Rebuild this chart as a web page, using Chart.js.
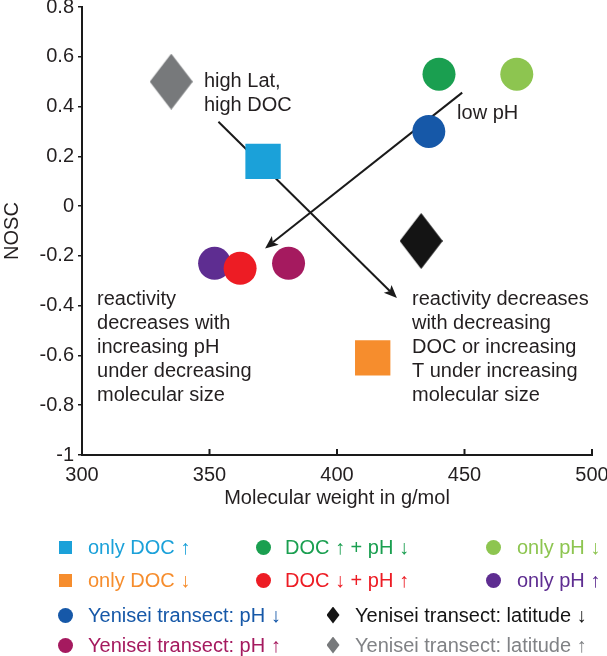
<!DOCTYPE html>
<html><head><meta charset="utf-8">
<script src="https://cdn.jsdelivr.net/npm/chart.js@4/dist/chart.umd.min.js"></script>
<style>
html,body{margin:0;padding:0;background:#fff;}
#wrap{position:relative;width:607px;height:656px;overflow:hidden;}
#c{position:absolute;left:0;top:0;}
.lg{position:absolute;font:20px "Liberation Sans",Arial,sans-serif;white-space:nowrap;line-height:24px;height:24px;}
.mk{position:absolute;}
</style></head><body>
<div id="wrap"><canvas id="c" width="607" height="656"></canvas><div id="legend"></div></div>
<script>
// ---- data ----
const seriesNames = ['only DOC \u2191','only DOC \u2193','DOC \u2191 + pH \u2193','DOC \u2193 + pH \u2191','only pH \u2193','only pH \u2191',
  'Yenisei transect: pH \u2193','Yenisei transect: pH \u2191','Yenisei transect: latitude \u2193','Yenisei transect: latitude \u2191'];
const seriesX = [371, 414, 440, 362, 470.5, 352, 436, 381, 433, 335];
const seriesY = [0.18, -0.61, 0.53, -0.25, 0.53, -0.23, 0.30, -0.23, -0.14, 0.50];
const seriesShape = ['square','square','circle','circle','circle','circle','circle','circle','diamond','diamond'];
const seriesColor = ['#1BA1D9','#F68D2D','#1A9F50','#ED1C24','#8DC550','#5E2D91','#1658A8','#A51A5F','#141414','#77797B'];
const xTickLabels = ['300','350','400','450','500'];
const xTickValues = [300,350,400,450,500];
const yTickLabels = ['-1','-0.8','-0.6','-0.4','-0.2','0','0.2','0.4','0.6','0.8'];
const yTickValues = [-1,-0.8,-0.6,-0.4,-0.2,0,0.2,0.4,0.6,0.8];
const arrowFrom = [[353.5,0.339],[449.1,0.456]];
const arrowTo = [[423.5,-0.369],[371.8,-0.170]];
const noteAnchors = [[347.8,0.499],[447.1,0.374],[305.9,-0.377],[429.4,-0.377]];
const noteLines = [
  ['high Lat,','high DOC'],
  ['low pH'],
  ['reactivity','decreases with','increasing pH','under decreasing','molecular size'],
  ['reactivity decreases','with decreasing','DOC or increasing','T under increasing','molecular size']
];
// legend layout (positions only)
const legendSlots = [[65,88,547],[65,88,580],[263,285,547],[263,285,580],[493,517,547],[493,517,580],[65,88,615],[65,88,645],[333,355,615],[333,355,645]];

const FONT = '"Liberation Sans", Arial, sans-serif';
const TXT = '#231F20';

function diamondImg(color,w,h){
  const c=document.createElement('canvas');c.width=w;c.height=h;
  const g=c.getContext('2d');g.fillStyle=color;g.beginPath();
  g.moveTo(w/2,0);g.lineTo(w,h/2);g.lineTo(w/2,h);g.lineTo(0,h/2);g.closePath();g.fill();return c;
}

// draw order: lower 'order' is drawn on top
const drawOrder = [5,5,5,1,5,6,5,5,5,5];
const datasets = seriesNames.map((n,i)=>{
  const shp = seriesShape[i];
  const ds = {label:n, data:[{x:seriesX[i],y:seriesY[i]}], backgroundColor:seriesColor[i], borderWidth:0, order:drawOrder[i]};
  if(shp==='circle'){ds.pointStyle='circle';ds.pointRadius=16.5;}
  else if(shp==='square'){ds.pointStyle='rect';ds.pointRadius=25;}
  else {ds.pointStyle=diamondImg(seriesColor[i],43,56);ds.pointRadius=20;}
  ds.pointHoverRadius=ds.pointRadius;
  return ds;
});

const arrowPlugin = {
  id:'arrows',
  beforeDatasetsDraw(chart){
    const {ctx, scales:{x,y}} = chart;
    ctx.save();
    ctx.strokeStyle='#1a1a1a';ctx.fillStyle='#1a1a1a';ctx.lineWidth=2;
    arrowFrom.forEach((f,i)=>{
      const x1=x.getPixelForValue(f[0]),y1=y.getPixelForValue(f[1]);
      const x2=x.getPixelForValue(arrowTo[i][0]),y2=y.getPixelForValue(arrowTo[i][1]);
      const a=Math.atan2(y2-y1,x2-x1);
      const L=13,W=5.5;
      const bx=x2-L*Math.cos(a),by=y2-L*Math.sin(a);
      ctx.beginPath();ctx.moveTo(x1,y1);ctx.lineTo(bx+3*Math.cos(a),by+3*Math.sin(a));ctx.stroke();
      ctx.beginPath();ctx.moveTo(x2,y2);
      ctx.lineTo(bx+W*Math.sin(a),by-W*Math.cos(a));
      ctx.lineTo(x2-(L-3)*Math.cos(a),y2-(L-3)*Math.sin(a));
      ctx.lineTo(bx-W*Math.sin(a),by+W*Math.cos(a));
      ctx.closePath();ctx.fill();
    });
    ctx.restore();
  },
  afterDraw(chart){
    const {ctx, scales:{x,y}} = chart;
    ctx.save();
    // inward x ticks
    ctx.strokeStyle='#1a1a1a';ctx.lineWidth=2;
    const b=chart.chartArea.bottom;
    xTickValues.forEach(v=>{const px=x.getPixelForValue(v);ctx.beginPath();ctx.moveTo(px,b);ctx.lineTo(px,b-6);ctx.stroke();});
    // notes
    ctx.fillStyle=TXT;ctx.font='20px '+FONT;ctx.textBaseline='middle';ctx.textAlign='left';
    noteAnchors.forEach((a,i)=>{
      const px=x.getPixelForValue(a[0]),py=y.getPixelForValue(a[1]);
      noteLines[i].forEach((t,j)=>ctx.fillText(t,px,py+j*24));
    });
    ctx.restore();
  }
};

new Chart(document.getElementById('c'),{
  type:'scatter',
  data:{datasets},
  options:{
    responsive:false,animation:false,devicePixelRatio:1,
    layout:{autoPadding:false,padding:{top:7,right:15,bottom:142,left:0}},
    plugins:{legend:{display:false},tooltip:{enabled:false}},
    events:[],
    scales:{
      x:{type:'linear',min:300,max:500,
        afterBuildTicks:s=>{s.ticks=xTickValues.map(v=>({value:v}));},
        afterFit:s=>{s.height=59;s.paddingLeft=0;s.paddingRight=0;},
        grid:{display:true,drawOnChartArea:false,drawTicks:false},
        border:{display:true,color:'#1a1a1a',width:2},
        ticks:{color:TXT,font:{family:FONT,size:20},padding:8,maxRotation:0,autoSkip:false,
          callback:(v,i)=>xTickLabels[i]},
        title:{display:true,text:'Molecular weight in g/mol',color:TXT,font:{family:FONT,size:20},padding:{top:4,bottom:4}}
      },
      y:{type:'linear',min:-1,max:0.8,
        afterBuildTicks:s=>{s.ticks=yTickValues.map(v=>({value:v}));},
        afterFit:s=>{s.width=82;s.paddingTop=0;s.paddingBottom=0;},
        grid:{display:true,drawOnChartArea:false,drawTicks:true,tickLength:4,color:'#1a1a1a',lineWidth:1.5},
        border:{display:true,color:'#1a1a1a',width:2},
        ticks:{color:TXT,font:{family:FONT,size:20},padding:4,autoSkip:false,
          callback:(v,i)=>yTickLabels[i]},
        title:{display:true,text:'NOSC',color:TXT,font:{family:FONT,size:20},padding:{top:0,bottom:0}}
      }
    }
  },
  plugins:[arrowPlugin]
});

// legend (HTML)
const lg=document.getElementById('legend');
seriesNames.forEach((n,i)=>{
  const [mx,tx,cy]=legendSlots[i];
  const m=document.createElement('div');m.className='mk';
  const shp=seriesShape[i];
  let w=13,h=13;
  if(shp==='circle'){w=15;h=15;m.style.borderRadius='50%';}
  if(shp==='diamond'){w=13;h=17;m.style.clipPath='polygon(50% 0,100% 50%,50% 100%,0 50%)';}
  m.style.width=w+'px';m.style.height=h+'px';m.style.left=(mx-w/2)+'px';m.style.top=(cy-h/2)+'px';
  m.style.background=seriesColor[i];
  lg.appendChild(m);
  const t=document.createElement('div');t.className='lg';t.textContent=n;
  t.style.left=tx+'px';t.style.top=(cy-12)+'px';
  t.style.color=(seriesColor[i]==='#77797B')?'#808285':seriesColor[i];
  lg.appendChild(t);
});
</script>
</body></html>
